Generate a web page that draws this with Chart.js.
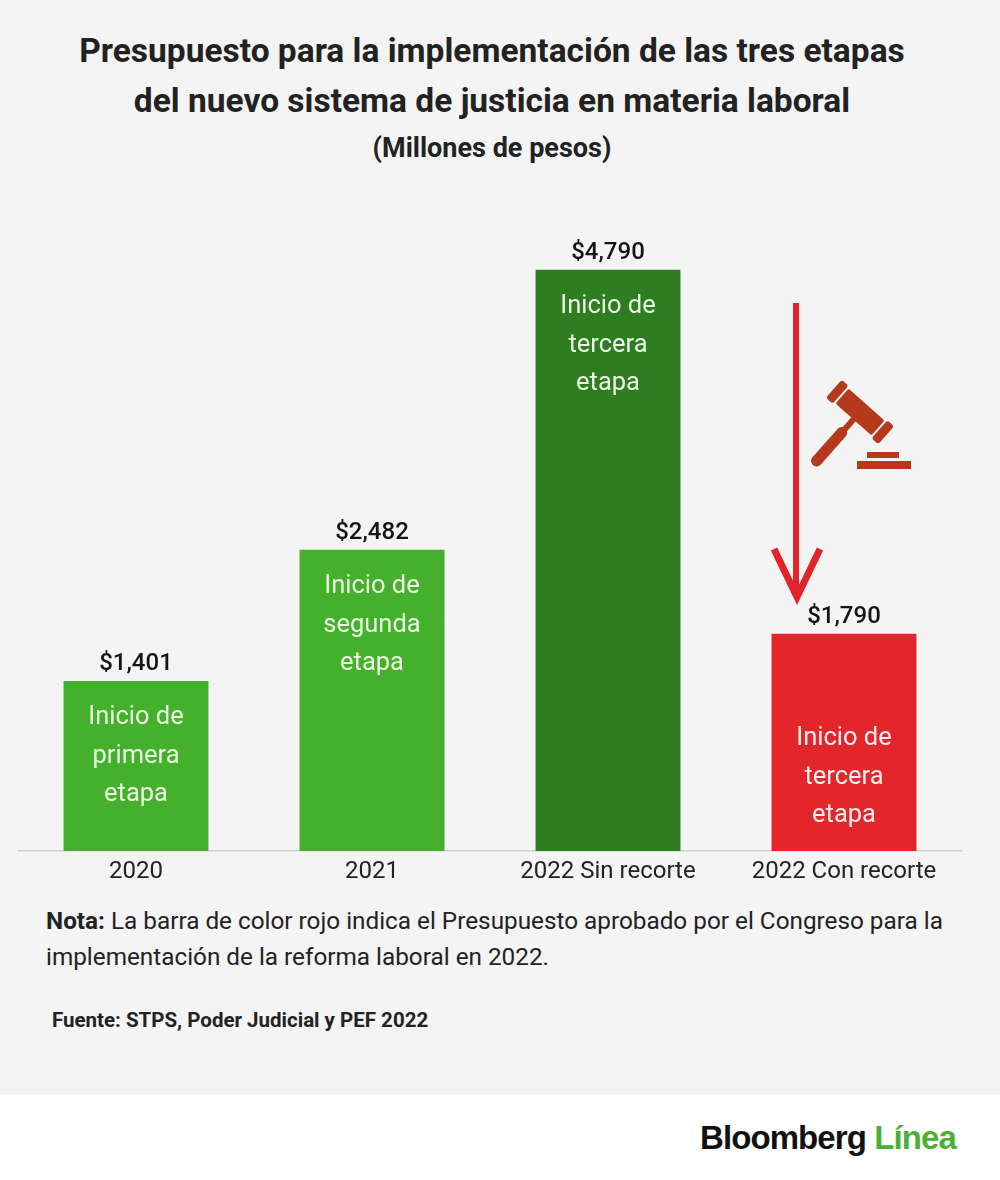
<!DOCTYPE html>
<html>
<head>
<meta charset="utf-8">
<script src="https://cdn.jsdelivr.net/npm/chart.js@4.4.0/dist/chart.umd.min.js"></script>
<style>
  html, body { margin: 0; padding: 0; }
  body {
    width: 1000px; height: 1180px; position: relative; overflow: hidden;
    background: #f4f4f4; font-family: Roboto, "Noto Sans", sans-serif; color: #222;
  }
  .title {
    position: absolute; left: 0; width: 984px; top: 26px; text-align: center;
    font-size: 33.5px; font-weight: 700; line-height: 50px; white-space: nowrap;
  }
  .subtitle {
    position: absolute; left: 0; width: 984px; top: 131px; text-align: center;
    font-size: 27px; font-weight: 700; line-height: 34px;
  }
  #wrap { position: absolute; left: 0; top: 180px; width: 1000px; height: 720px; }
  .note {
    position: absolute; left: 46px; top: 903px; font-size: 24.3px; line-height: 36px; white-space: nowrap;
  }
  .source {
    position: absolute; left: 52px; top: 1007px; font-size: 20.5px; font-weight: 700; line-height: 26px;
  }
  .band { position: absolute; left: 0; top: 1095px; width: 1000px; height: 85px; background: #fff; }
  .logo {
    position: absolute; right: 44px; top: 1116px; font-family: "Liberation Sans", Arial, sans-serif;
    font-size: 33px; font-weight: 700; letter-spacing: -0.9px; line-height: 44px; color: #111;
  }
  .logo span { color: #4cb034; }
  svg { position: absolute; left: 0; top: 0; pointer-events: none; }
</style>
</head>
<body>
<div class="title">Presupuesto para la implementación de las tres etapas<br>del nuevo sistema de justicia en materia laboral</div>
<div class="subtitle">(Millones de pesos)</div>
<div id="wrap"><canvas id="barChart"></canvas></div>
<div class="note"><b>Nota:</b> La barra de color rojo indica el Presupuesto aprobado por el Congreso para la<br>implementación de la reforma laboral en 2022.</div>
<div class="source">Fuente: STPS, Poder Judicial y PEF 2022</div>
<div class="band"></div>
<div class="logo">Bloomberg <span>Línea</span></div>

<svg width="1000" height="1180">
  <line x1="796" y1="303" x2="796" y2="594" stroke="#e3232c" stroke-width="6"/>
  <polyline points="774,549 797,597 820,549" fill="none" stroke="#e3232c" stroke-width="7"/>
  <g fill="#b5391a">
    <g transform="translate(860,412) rotate(41.6)">
      <rect x="-24" y="-10" width="48" height="20" rx="2"/>
      <rect x="-35" y="-12" width="9" height="24" rx="3"/>
      <rect x="26" y="-12" width="9" height="24" rx="3"/>
      <rect x="-3" y="9" width="6" height="16"/>
      <rect x="-5.5" y="22" width="11" height="49" rx="5.5"/>
    </g>
    <rect x="867" y="452" width="32" height="6"/>
    <rect x="857" y="461" width="54" height="8"/>
  </g>
</svg>

<script>
const categories = ["2020", "2021", "2022 Sin recorte", "2022 Con recorte"];
const budget = [1401, 2482, 4790, 1790];
const valueLabels = ["$1,401", "$2,482", "$4,790", "$1,790"];
const innerLabels = [
  ["Inicio de", "primera", "etapa"],
  ["Inicio de", "segunda", "etapa"],
  ["Inicio de", "tercera", "etapa"],
  ["Inicio de", "tercera", "etapa"]
];
const barColors = ["#45b02c", "#45b02c", "#2e7d20", "#e3262b"];

// labels above and inside each bar
const barTextPlugin = {
  id: "barText",
  afterDatasetsDraw(chart) {
    const ctx = chart.ctx;
    const meta = chart.getDatasetMeta(0);
    ctx.save();
    ctx.textAlign = "center";
    ctx.textBaseline = "middle";
    meta.data.forEach((bar, i) => {
      ctx.fillStyle = "#141414";
      ctx.font = "500 24px Roboto";
      ctx.fillText(valueLabels[i], bar.x, bar.y - 17);

      const lines = innerLabels[i];
      const lh = 38.5;
      let y0;
      if (i === 3) {
        y0 = bar.base - 35 - lh * (lines.length - 1);
        ctx.fillStyle = "#fdeeee";
      } else {
        y0 = bar.y + 37;
        ctx.fillStyle = "#eaf7e2";
      }
      ctx.font = "400 25.5px Roboto";
      lines.forEach((t, j) => ctx.fillText(t, bar.x, y0 + j * lh));
    });
    ctx.restore();
  }
};

const barChartCanvas = document.getElementById("barChart").getContext("2d");

new Chart(barChartCanvas, {
  type: "bar",
  data: {
    labels: categories,
    datasets: [
      {
        data: budget,
        backgroundColor: barColors,
        borderWidth: 0,
        barPercentage: 0.614,
        categoryPercentage: 1
      }
    ]
  },
  options: {
    responsive: true,
    maintainAspectRatio: false,
    animation: false,
    layout: { padding: { left: 18, right: 38, top: 0, bottom: 0 } },
    plugins: { legend: { display: false }, tooltip: { enabled: false } },
    scales: {
      x: {
        grid: { display: false, drawTicks: false },
        border: { color: "#cfcfcf", width: 1.5 },
        ticks: { color: "#222", font: { family: "Roboto", size: 24 }, padding: 7, maxRotation: 0 },
        afterFit(scale) { scale.height = 49; }
      },
      y: { display: false, min: 0, max: 5530 }
    }
  },
  plugins: [barTextPlugin]
});
</script>
</body>
</html>
